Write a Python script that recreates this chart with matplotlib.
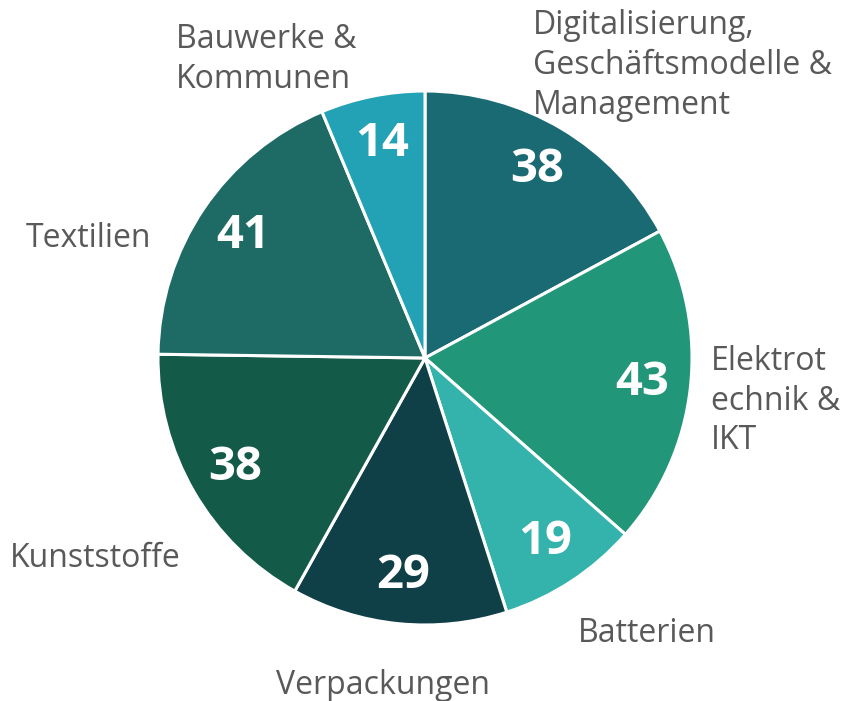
import matplotlib.pyplot as plt

plt.rcParams['font.family'] = ['Open Sans', 'DejaVu Sans']

labels = ['Digitalisierung,\nGeschäftsmodelle &\nManagement', 'Elektrot\nechnik &\nIKT',
          'Batterien', 'Verpackungen', 'Kunststoffe', 'Textilien', 'Bauwerke &\nKommunen']
values = [38, 43, 19, 29, 38, 41, 14]
colors = ['#1A6A73', '#219679', '#33B3AB', '#0F3F47', '#145A48', '#1E6B66', '#22A2B4']

# label anchor positions in pixels (left x, top y)
label_pos = [(533, 9), (711, 345), (578, 617), (276, 669), (10, 542), (26, 222), (176, 23)]

W, H = 845, 701
fig = plt.figure(figsize=(W / 100, H / 100), dpi=100)
ax = fig.add_axes([0, 0, 1, 1])

total = sum(values)
wedges, texts, autotexts = ax.pie(
    values, colors=colors, startangle=90, counterclock=False,
    center=(425, H - 358), radius=267, frame=True,
    wedgeprops=dict(edgecolor='white', linewidth=2.2),
    autopct=lambda p: f'{round(p * total / 100):d}', pctdistance=0.82,
    textprops=dict(color='white', fontsize=34, fontweight='bold'))
ax.set_xlim(0, W)
ax.set_ylim(0, H)
ax.set_aspect('equal')
ax.axis('off')

for lab, (x, y) in zip(labels, label_pos):
    ax.text(x, H - y, lab, ha='left', va='top', fontsize=23, color='#595959',
            linespacing=1.27)

fig.savefig('out.png', dpi=100)
